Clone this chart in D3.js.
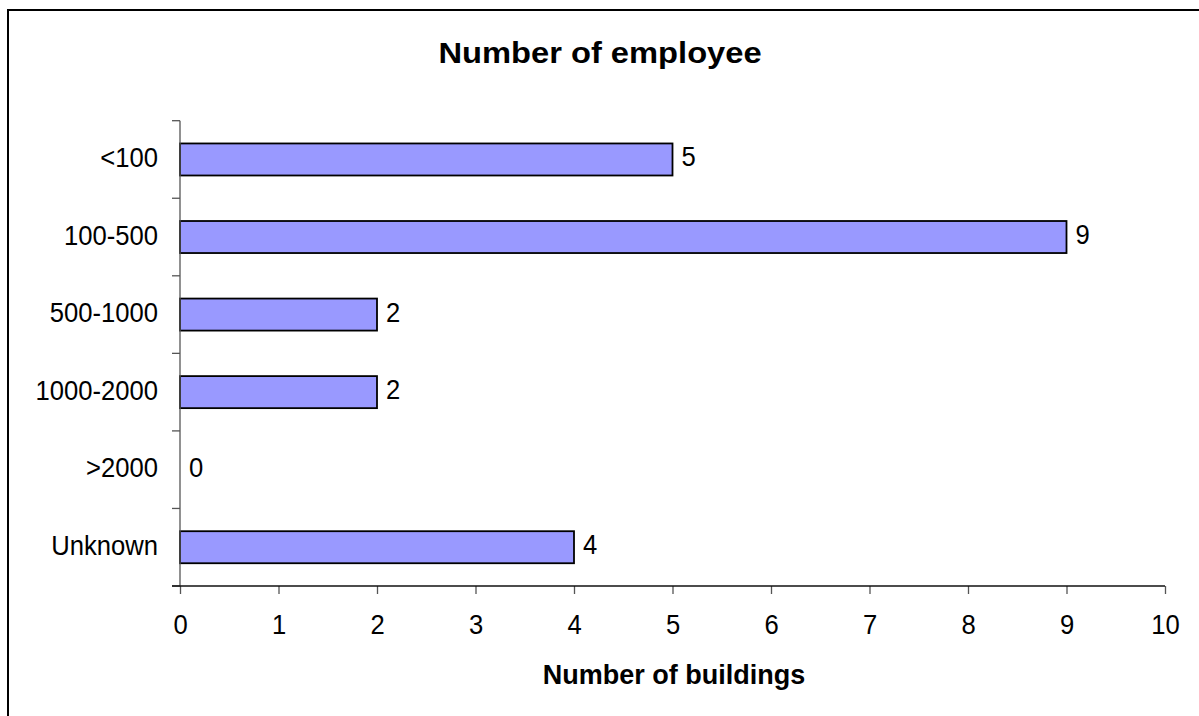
<!DOCTYPE html>
<html>
<head>
<meta charset="utf-8">
<script src="https://cdn.jsdelivr.net/npm/d3@7"></script>
<style>
  html, body { margin: 0; padding: 0; background: #fff; }
  svg { display: block; font-family: Arial, "Liberation Sans", sans-serif; }
</style>
</head>
<body>
<svg id="chart" width="1199" height="716"></svg>
<script>
// Employee-size categories and building counts
const categories = ["<100", "100-500", "500-1000", "1000-2000", ">2000", "Unknown"];
const buildings = [5, 9, 2, 2, 0, 4];
const xTicks = [0, 1, 2, 3, 4, 5, 6, 7, 8, 9, 10];

const titleText = "Number of employee";
const xTitleText = "Number of buildings";

const svg = d3.select("#chart");

// Text is slightly condensed horizontally, as in the original export
const labelFont = 28;
const labelSx = 0.915;

// Outer frame of the chart area
svg.append("rect")
  .attr("x", 8).attr("y", 10)
  .attr("width", 1220).attr("height", 740)
  .attr("fill", "#fff")
  .attr("stroke", "#000")
  .attr("stroke-width", 2);

const plot = { left: 180, right: 1165, top: 120.7, bottom: 586 };

const x = d3.scaleLinear().domain([0, 10]).range([plot.left, plot.right]);

const barPad = 0.587;
const y = d3.scaleBand()
  .domain(categories)
  .range([plot.top, plot.bottom])
  .paddingInner(barPad)
  .paddingOuter(barPad / 2);

// category boundaries for the tick marks on the vertical axis
const yEdge = d3.scaleLinear().domain([0, categories.length]).range([plot.top, plot.bottom]);
const yMid = c => y(c) + y.bandwidth() / 2;

// Title
svg.append("text")
  .attr("transform", "translate(600,63) scale(1.09,1)")
  .attr("text-anchor", "middle")
  .attr("font-size", 30)
  .attr("font-weight", "bold")
  .attr("fill", "#000")
  .text(titleText);

// Bars (zero-valued categories get no bar)
svg.append("g").selectAll("rect")
  .data(categories.map((c, i) => ({ c, v: buildings[i] })).filter(d => d.v > 0))
  .join("rect")
  .attr("x", x(0))
  .attr("y", d => y(d.c))
  .attr("width", d => x(d.v) - x(0))
  .attr("height", y.bandwidth())
  .attr("fill", "#9999FF")
  .attr("stroke", "#000")
  .attr("stroke-width", 1.8);

// Value labels
svg.append("g").selectAll("text")
  .data(categories.map((c, i) => ({ c, v: buildings[i] })))
  .join("text")
  .attr("transform", d => `translate(${x(d.v) + 9},${yMid(d.c) + 7}) scale(${labelSx},1)`)
  .attr("font-size", labelFont)
  .attr("fill", "#000")
  .text(d => d.v);

// Vertical axis: line, boundary ticks, category labels
const yAxisG = svg.append("g");
yAxisG.append("line")
  .attr("x1", plot.left).attr("x2", plot.left)
  .attr("y1", plot.top).attr("y2", plot.bottom)
  .attr("stroke", "#555").attr("stroke-width", 1.3);
yAxisG.selectAll("line.tick")
  .data(d3.range(categories.length + 1))
  .join("line")
  .attr("class", "tick")
  .attr("x1", plot.left - 8).attr("x2", plot.left)
  .attr("y1", d => yEdge(d)).attr("y2", d => yEdge(d))
  .attr("stroke", "#555").attr("stroke-width", 1.3);
yAxisG.selectAll("text")
  .data(categories)
  .join("text")
  .attr("transform", c => `translate(${plot.left - 22},${yMid(c) + 7.5}) scale(${labelSx},1)`)
  .attr("text-anchor", "end")
  .attr("font-size", labelFont)
  .attr("fill", "#000")
  .text(c => c);

// Horizontal axis
const xAxis = d3.axisBottom(x)
  .tickValues(xTicks)
  .tickFormat(d3.format("d"))
  .tickSize(8)
  .tickSizeOuter(0);

const xAxisG = svg.append("g")
  .attr("transform", `translate(0,${plot.bottom})`)
  .call(xAxis);
xAxisG.select(".domain").remove();
xAxisG.selectAll(".tick line").attr("stroke", "#555").attr("stroke-width", 1.3);
xAxisG.selectAll(".tick text")
  .attr("y", 48)
  .attr("dy", null)
  .attr("transform", `scale(${labelSx},1)`)
  .attr("font-size", labelFont)
  .attr("font-family", "Arial, 'Liberation Sans', sans-serif")
  .attr("fill", "#000");
xAxisG.append("line")
  .attr("x1", plot.left - 8).attr("x2", plot.right)
  .attr("y1", 0).attr("y2", 0)
  .attr("stroke", "#111").attr("stroke-width", 1.5);

// Horizontal axis title
svg.append("text")
  .attr("x", 674).attr("y", 684)
  .attr("text-anchor", "middle")
  .attr("font-size", 27)
  .attr("font-weight", "bold")
  .attr("fill", "#000")
  .text(xTitleText);
</script>
</body>
</html>
